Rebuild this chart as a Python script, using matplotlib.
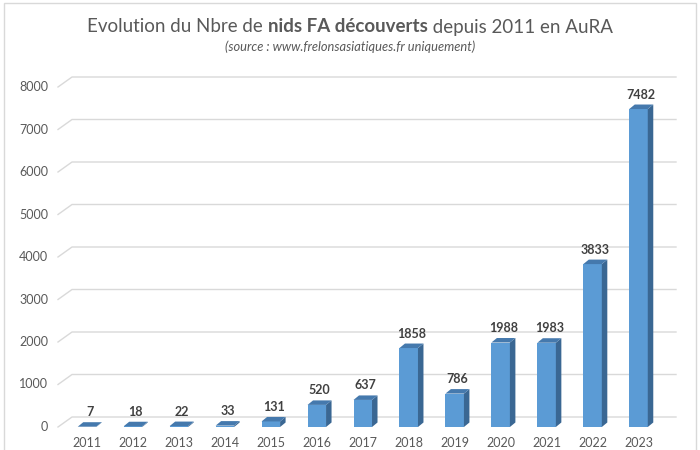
import matplotlib
matplotlib.use("Agg")
import matplotlib.pyplot as plt
from matplotlib.patches import Polygon, Rectangle

years = ["2011", "2012", "2013", "2014", "2015", "2016", "2017",
         "2018", "2019", "2020", "2021", "2022", "2023"]
nests = [7, 18, 22, 33, 131, 520, 637, 1858, 786, 1988, 1983, 3833, 7482]
y_ticks = [0, 1000, 2000, 3000, 4000, 5000, 6000, 7000, 8000]

FRONT = "#5B9BD5"
SIDE = "#3A6793"
TOP = "#4579AD"
GRID = "#D9D9D9"
TXT = "#595959"

W, H = 700, 450
X0, XSTEP = 87.0, 45.96      # px of first bar centre, px between bars
Y0, YSCALE = 23.0, 0.0425    # px (from bottom) of value 0, px per unit

plt.rcParams["font.family"] = ["Lato", "DejaVu Sans"]

fig = plt.figure(figsize=(W / 100, H / 100), dpi=100)
ax = fig.add_axes([0, 0, 1, 1])
ax.set_xlim(-X0 / XSTEP, (W - X0) / XSTEP)
ax.set_ylim(-Y0 / YSCALE, (H - Y0) / YSCALE)
ax.axis("off")


def px_x(p):
    return p / XSTEP


def px_y(p):
    return p / YSCALE


# chart frame
fig.patches.append(Rectangle((4 / W, -0.01), 692 / W, 1 - 3 / H + 0.01,
                             transform=fig.transFigure, fill=False,
                             edgecolor="#D9D9D9", linewidth=1))

# back-wall gridlines with the slanted floor edge on the left
x_front = px_x(58 - X0)
x_back = px_x(72 - X0)
x_end = px_x(676 - X0)
for v in y_ticks:
    ax.plot([x_front, x_back, x_end], [v, v + px_y(10), v + px_y(10)],
            color=GRID, linewidth=1, zorder=1)
    ax.text(px_x(48 - X0), v, f"{v}", ha="right", va="center",
            fontsize=9, color=TXT)

# 3D-looking bars
bw = px_x(18.5)
dx = px_x(5.5)
dy = px_y(4.5)
idx = list(range(len(years)))
ax.bar(idx, nests, width=bw, color=FRONT, linewidth=0, zorder=3)
for i, v in zip(idx, nests):
    r = i + bw / 2
    l = i - bw / 2
    ax.add_patch(Polygon([(r, 0), (r + dx, dy), (r + dx, v + dy), (r, v)],
                         closed=True, facecolor=SIDE, edgecolor="none", zorder=3))
    ax.add_patch(Polygon([(l, v), (r, v), (r + dx, v + dy), (l + dx, v + dy)],
                         closed=True, facecolor=TOP, edgecolor="none", zorder=4))
    ax.text(i + dx / 2, v + dy + px_y(4), f"{v}", ha="center", va="bottom",
            fontsize=9, fontweight="bold", color="#404040", zorder=5)
    # year labels sit right at the bottom edge, as in the original
    ax.text(i, px_y(1 - Y0), years[i], ha="center", va="bottom",
            fontsize=9, color=TXT)

# title with a bold middle part
renderer = fig.canvas.get_renderer()
parts = [("Evolution du Nbre de ", "normal"),
         ("nids FA découverts", "bold"),
         (" depuis 2011 en AuRA", "normal")]
texts = []
for s, wgt in parts:
    t = fig.text(0, 1 - 27 / H, s, fontsize=13.5, fontweight=wgt, color=TXT,
                 ha="left", va="center")
    texts.append(t)
widths = [t.get_window_extent(renderer).width for t in texts]
x = (W - sum(widths)) / 2
for t, w in zip(texts, widths):
    t.set_x(x / W)
    x += w

fig.text(0.5, 1 - 47 / H, "(source : www.frelonsasiatiques.fr uniquement)",
         ha="center", va="center", fontsize=9.3, style="italic", color=TXT)

fig.savefig("out.png", dpi=100)
